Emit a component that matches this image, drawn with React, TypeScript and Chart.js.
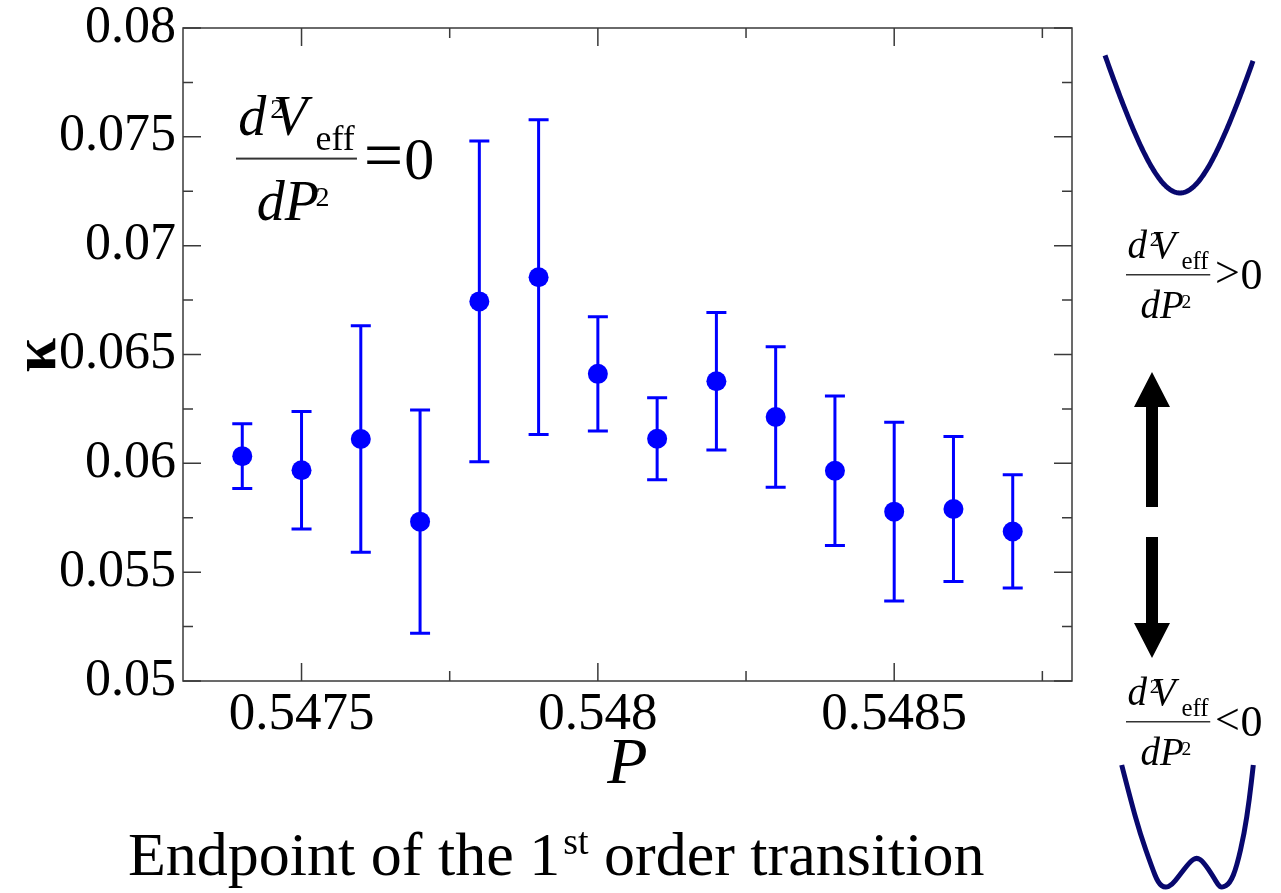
import { useEffect, useRef } from "react";
import { Chart, registerables } from "chart.js";

Chart.register(...registerables);

// Measured curvature parameter kappa versus P near the endpoint
const P_VALUES = [
  0.5474, 0.5475, 0.5476, 0.5477, 0.5478, 0.5479, 0.548,
  0.5481, 0.5482, 0.5483, 0.5484, 0.5485, 0.5486, 0.5487,
];
const KAPPA = [
  0.06033, 0.05968, 0.06112, 0.05732, 0.06744, 0.06855, 0.06411,
  0.06113, 0.06377, 0.06213, 0.05966, 0.05778, 0.0579, 0.05687,
];
const KAPPA_ERR = [
  0.00149, 0.0027, 0.0052, 0.00513, 0.00737, 0.00723, 0.00262,
  0.00188, 0.00316, 0.00323, 0.00343, 0.00411, 0.00333, 0.0026,
];

const X_RANGE = [0.5473, 0.5488];
const Y_RANGE = [0.05, 0.08];
const X_MAJOR_TICKS = [0.5475, 0.548, 0.5485];
const X_TICK_LABELS = ["0.5475", "0.548", "0.5485"];
const X_MINOR_TICKS = [0.54775, 0.54825, 0.54875];
const Y_MAJOR_TICKS = [0.05, 0.055, 0.06, 0.065, 0.07, 0.075, 0.08];
const Y_TICK_LABELS = ["0.05", "0.055", "0.06", "0.065", "0.07", "0.075", "0.08"];
const Y_MINOR_TICKS = [0.0525, 0.0575, 0.0625, 0.0675, 0.0725, 0.0775];

const SERIF = '"Liberation Serif", "Times New Roman", serif';
const BLUE = "#0000ff";
const NAVY = "#08086e";
const FRAME = "#3a3a3a";

function put(ctx: CanvasRenderingContext2D, s: string, x: number, y: number, size: number, style = "") {
  ctx.font = `${style} ${size}px ${SERIF}`;
  ctx.fillText(s, x, y);
}

// d^2 V_eff / dP^2  followed by a relation sign and 0
function drawFraction(
  ctx: CanvasRenderingContext2D,
  x0: number,
  lineY: number,
  s: number,
  rel: string,
  relSize: number,
  zeroSize: number
) {
  ctx.save();
  ctx.fillStyle = "#000";
  ctx.textAlign = "left";
  ctx.textBaseline = "alphabetic";
  const numBase = lineY - 0.43 * s;
  put(ctx, "d", x0 + 0.04 * s, numBase, s, "italic");
  put(ctx, "2", x0 + 0.61 * s, lineY - 0.74 * s, 0.5 * s);
  put(ctx, "V", x0 + 0.66 * s, numBase, s, "italic");
  put(ctx, "eff", x0 + 1.42 * s, lineY - 0.16 * s, 0.64 * s);
  ctx.fillStyle = "#333";
  ctx.fillRect(x0, lineY - Math.max(1, s / 40), 2.16 * s, Math.max(1.5, s / 28));
  ctx.fillStyle = "#000";
  const denBase = lineY + 1.09 * s;
  put(ctx, "d", x0 + 0.37 * s, denBase, s, "italic");
  put(ctx, "P", x0 + 0.87 * s, denBase, s, "italic");
  put(ctx, "2", x0 + 1.42 * s, lineY + 0.84 * s, 0.5 * s);
  // relation sign and zero, centred on the fraction bar
  ctx.textBaseline = "middle";
  ctx.font = `${relSize}px ${SERIF}`;
  const relX = x0 + 2.28 * s;
  ctx.fillText(rel, relX, lineY + 0.02 * s);
  const relW = ctx.measureText(rel).width;
  ctx.textBaseline = "alphabetic";
  put(ctx, "0", relX + relW + 0.02 * s, lineY + 0.25 * s + zeroSize * 0.1, zeroSize);
  ctx.restore();
}

function smoothPath(ctx: CanvasRenderingContext2D, pts: number[][]) {
  ctx.beginPath();
  ctx.moveTo(pts[0][0], pts[0][1]);
  for (let i = 1; i < pts.length - 1; i++) {
    const mx = (pts[i][0] + pts[i + 1][0]) / 2;
    const my = (pts[i][1] + pts[i + 1][1]) / 2;
    ctx.quadraticCurveTo(pts[i][0], pts[i][1], mx, my);
  }
  const last = pts[pts.length - 1];
  ctx.lineTo(last[0], last[1]);
  ctx.stroke();
}

const errorBarPlugin = {
  id: "errorBars",
  beforeDatasetsDraw(chart: any) {
    const { ctx, scales } = chart;
    const xs = scales.x;
    const ys = scales.y;
    ctx.save();
    ctx.strokeStyle = BLUE;
    ctx.lineWidth = 3;
    P_VALUES.forEach((p, i) => {
      const x = xs.getPixelForValue(p);
      const yt = ys.getPixelForValue(KAPPA[i] + KAPPA_ERR[i]);
      const yb = ys.getPixelForValue(KAPPA[i] - KAPPA_ERR[i]);
      ctx.beginPath();
      ctx.moveTo(x, yt);
      ctx.lineTo(x, yb);
      ctx.moveTo(x - 10, yt);
      ctx.lineTo(x + 10, yt);
      ctx.moveTo(x - 10, yb);
      ctx.lineTo(x + 10, yb);
      ctx.stroke();
    });
    ctx.restore();
  },
};

const framePlugin = {
  id: "frameAndTicks",
  afterDatasetsDraw(chart: any) {
    const { ctx, chartArea, scales } = chart;
    const { left, right, top, bottom } = chartArea;
    ctx.save();
    ctx.strokeStyle = FRAME;
    ctx.lineWidth = 1.5;
    ctx.strokeRect(left, top, right - left, bottom - top);
    ctx.beginPath();
    const xt = (v: number, len: number) => {
      const x = scales.x.getPixelForValue(v);
      ctx.moveTo(x, bottom);
      ctx.lineTo(x, bottom - len);
      ctx.moveTo(x, top);
      ctx.lineTo(x, top + len);
    };
    const yt = (v: number, len: number) => {
      const y = scales.y.getPixelForValue(v);
      ctx.moveTo(left, y);
      ctx.lineTo(left + len, y);
      ctx.moveTo(right, y);
      ctx.lineTo(right - len, y);
    };
    X_MAJOR_TICKS.forEach((v) => xt(v, 18));
    X_MINOR_TICKS.forEach((v) => xt(v, 10));
    Y_MAJOR_TICKS.forEach((v) => yt(v, 18));
    Y_MINOR_TICKS.forEach((v) => yt(v, 10));
    ctx.stroke();
    ctx.restore();
  },
};

const annotationPlugin = {
  id: "annotations",
  afterDraw(chart: any) {
    const { ctx, chartArea } = chart;
    ctx.save();
    ctx.fillStyle = "#000";
    ctx.textBaseline = "alphabetic";

    // axis titles
    ctx.textAlign = "center";
    put(ctx, "P", (chartArea.left + chartArea.right) / 2, 783, 66, "italic");
    ctx.save();
    ctx.translate(37, 355);
    ctx.rotate(-Math.PI / 2);
    ctx.textBaseline = "middle";
    put(ctx, "\u03ba", 0, 2, 62, "bold");
    ctx.restore();

    // caption with superscript
    ctx.textAlign = "left";
    let cx = 128;
    const capBase = 875;
    ctx.font = `62px ${SERIF}`;
    const part1 = "Endpoint of the 1";
    ctx.fillText(part1, cx, capBase);
    cx += ctx.measureText(part1).width + 3;
    ctx.font = `38px ${SERIF}`;
    ctx.fillText("st", cx, capBase - 21);
    cx += ctx.measureText("st").width;
    ctx.font = `62px ${SERIF}`;
    ctx.fillText(" order transition", cx, capBase);

    // curvature condition labels
    drawFraction(ctx, 236, 159, 56, "=", 70, 60);
    drawFraction(ctx, 1126, 275, 39, ">", 44, 44);
    drawFraction(ctx, 1126, 722, 39, "<", 44, 44);

    // single-well potential sketch
    ctx.strokeStyle = NAVY;
    ctx.lineWidth = 5;
    ctx.lineJoin = "round";
    const well: number[][] = [];
    for (let dx = -75; dx <= 73; dx += 1) {
      well.push([1180 + dx, 193 - 161 * (Math.sqrt(1 + (dx / 48) ** 2) - 1)]);
    }
    ctx.beginPath();
    well.forEach(([x, y], i) => (i === 0 ? ctx.moveTo(x, y) : ctx.lineTo(x, y)));
    ctx.stroke();

    // double-well potential sketch
    smoothPath(ctx, [
      [1121.7, 765], [1130.7, 800], [1140, 833.3], [1151.7, 866.7], [1158.3, 883.3],
      [1165, 888], [1172, 885], [1178.3, 876.7], [1190, 861.7], [1196.7, 857.3],
      [1203.3, 861.7], [1213.3, 876.7], [1218, 885], [1222, 888], [1230, 883.3],
      [1236.7, 866.7], [1244.3, 833.3], [1249.3, 800], [1253.3, 765],
    ]);

    // arrows
    ctx.fillStyle = "#000";
    ctx.beginPath();
    ctx.moveTo(1152, 372);
    ctx.lineTo(1170, 407);
    ctx.lineTo(1158, 407);
    ctx.lineTo(1158, 507);
    ctx.lineTo(1146, 507);
    ctx.lineTo(1146, 407);
    ctx.lineTo(1134, 407);
    ctx.closePath();
    ctx.fill();
    ctx.beginPath();
    ctx.moveTo(1146, 537);
    ctx.lineTo(1158, 537);
    ctx.lineTo(1158, 623);
    ctx.lineTo(1170, 623);
    ctx.lineTo(1152, 658);
    ctx.lineTo(1134, 623);
    ctx.lineTo(1146, 623);
    ctx.closePath();
    ctx.fill();
    ctx.restore();
  },
};

export default function App() {
  const canvasRef = useRef<HTMLCanvasElement | null>(null);

  useEffect(() => {
    document.body.style.margin = "0";
    const canvas = canvasRef.current;
    if (!canvas) return;
    const chart = new Chart(canvas, {
      type: "scatter",
      data: {
        datasets: [
          {
            label: "kappa",
            data: P_VALUES.map((p, i) => ({ x: p, y: KAPPA[i] })),
            backgroundColor: BLUE,
            borderColor: BLUE,
            borderWidth: 0,
            pointRadius: 10,
            pointHoverRadius: 10,
            showLine: false,
          },
        ],
      },
      options: {
        responsive: false,
        animation: false,
        devicePixelRatio: 1,
        layout: { padding: { left: 0, top: 28, right: 209, bottom: 0 } },
        plugins: { legend: { display: false }, tooltip: { enabled: false }, title: { display: false } },
        scales: {
          x: {
            type: "linear",
            min: X_RANGE[0],
            max: X_RANGE[1],
            grid: { display: false, drawTicks: false },
            border: { display: false },
            afterBuildTicks: (s: any) => {
              s.ticks = X_MAJOR_TICKS.map((v) => ({ value: v }));
            },
            afterFit: (s: any) => {
              s.height = 212;
              s.paddingLeft = 0;
              s.paddingRight = 0;
            },
            ticks: {
              autoSkip: false,
              maxRotation: 0,
              padding: 2,
              color: "#000",
              font: { family: SERIF, size: 53 },
              callback: (_v: any, i: number) => X_TICK_LABELS[i],
            },
          },
          y: {
            type: "linear",
            min: Y_RANGE[0],
            max: Y_RANGE[1],
            grid: { display: false, drawTicks: false },
            border: { display: false },
            afterBuildTicks: (s: any) => {
              s.ticks = Y_MAJOR_TICKS.map((v) => ({ value: v }));
            },
            afterFit: (s: any) => {
              s.width = 183;
              s.paddingTop = 0;
              s.paddingBottom = 0;
            },
            ticks: {
              autoSkip: false,
              padding: 7,
              color: "#000",
              font: { family: SERIF, size: 52 },
              callback: (_v: any, i: number) => Y_TICK_LABELS[i],
            },
          },
        },
      },
      plugins: [errorBarPlugin, framePlugin, annotationPlugin],
    });
    return () => chart.destroy();
  }, []);

  return (
    <div style={{ width: 1281, height: 893, background: "#fff" }}>
      <canvas ref={canvasRef} width={1281} height={893} style={{ display: "block" }} />
    </div>
  );
}
